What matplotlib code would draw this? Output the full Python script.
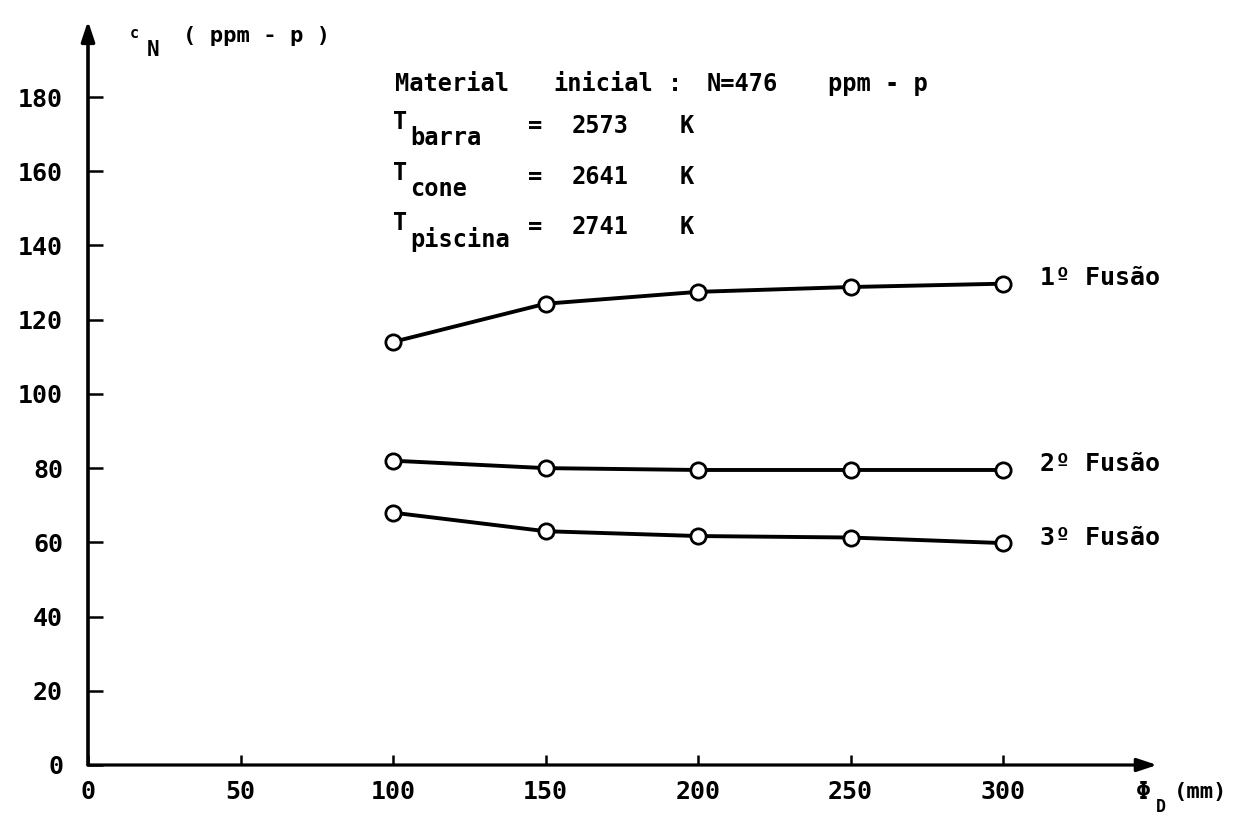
import matplotlib
matplotlib.use("Agg")
import matplotlib.pyplot as plt

plt.rcParams['font.family'] = ['DejaVu Sans Mono', 'DejaVu Sans']
plt.rcParams['font.weight'] = 'bold'

# Bar diameter (mm) and nitrogen content (ppm-p) after each melt
diametro = [100, 150, 200, 250, 300]
fusao_1 = [114.0, 124.3, 127.5, 128.8, 129.7]
fusao_2 = [82.0, 80.0, 79.5, 79.5, 79.5]
fusao_3 = [68.0, 63.0, 61.7, 61.3, 59.8]
rotulos = ["1º Fusão", "2º Fusão", "3º Fusão"]

y_ticks = [0, 20, 40, 60, 80, 100, 120, 140, 160, 180]
x_ticks = [0, 50, 100, 150, 200, 250, 300]

W, H = 1243, 816
fig = plt.figure(figsize=(W / 100, H / 100), dpi=100)

# axes placed so that the origin sits at (88, 765) px
x0_px, y0_px = 88, 765
sx, sy = 3.05, 3.711
xmax, ymax = 370, 205
ax = fig.add_axes([x0_px / W, 1 - y0_px / H,
                   xmax * sx / W, ymax * sy / H])
ax.set_xlim(0, xmax)
ax.set_ylim(0, ymax)
for s in ax.spines.values():
    s.set_visible(False)


def px(x, y):
    """Figure fraction from pixel position (top-left origin)."""
    return x / W, 1 - y / H


# axes drawn as arrows
ax.annotate('', xy=(0, 200.5), xytext=(0, 0),
            arrowprops=dict(arrowstyle='-|>,head_length=1.2,head_width=0.4',
                            lw=2.6, color='black', shrinkA=0, shrinkB=0),
            annotation_clip=False)
ax.annotate('', xy=(350.5, 0), xytext=(0, 0),
            arrowprops=dict(arrowstyle='-|>,head_length=1.2,head_width=0.4',
                            lw=2.3, color='black', shrinkA=0, shrinkB=0),
            annotation_clip=False)

ax.set_yticks(y_ticks)
ax.set_xticks(x_ticks)
ax.tick_params(axis='y', direction='in', length=11, width=1.8, pad=18,
               labelsize=18)
ax.tick_params(axis='x', direction='in', length=7, width=1.8, pad=11,
               labelsize=18)
for lab in ax.get_xticklabels() + ax.get_yticklabels():
    lab.set_fontweight('bold')

for serie, rot in zip([fusao_1, fusao_2, fusao_3], rotulos):
    ax.plot(diametro, serie, color='black', lw=2.8, marker='o', ms=11,
            mfc='white', mec='black', mew=2.0, zorder=3)
    ax.annotate(rot, xy=(diametro[-1], serie[-1]), xytext=(27, 4),
                textcoords='offset points', va='center', ha='left',
                fontsize=18, fontweight='bold')

# axis titles
fig.text(*px(130, 34), "c", fontsize=11, va='center', ha='left')
fig.text(*px(147, 50), "N", fontsize=15, va='center', ha='left')
fig.text(*px(183, 36), "( ppm - p )", fontsize=16, va='center', ha='left')

fig.text(*px(1136, 792), "Φ", fontsize=18, va='center', ha='left')
fig.text(*px(1156, 807), "D", fontsize=12, va='center', ha='left')
fig.text(*px(1174, 792), "(mm)", fontsize=16, va='center', ha='left')

# operating conditions
fs = 17
fig.text(*px(395, 84), "Material", fontsize=fs, va='center', ha='left')
fig.text(*px(553, 84), "inicial", fontsize=fs, va='center', ha='left')
fig.text(*px(668, 84), ":", fontsize=fs, va='center', ha='left')
fig.text(*px(707, 84), "N=476", fontsize=fs, va='center', ha='left')
fig.text(*px(828, 84), "ppm - p", fontsize=fs, va='center', ha='left')

linhas = [("barra", "2573", 126), ("cone", "2641", 177), ("piscina", "2741", 227)]
for sub, val, yc in linhas:
    fig.text(*px(393, yc - 4), "T", fontsize=17, va='center', ha='left')
    fig.text(*px(410, yc + 12), sub, fontsize=fs, va='center', ha='left')
    fig.text(*px(528, yc), "=", fontsize=fs, va='center', ha='left')
    fig.text(*px(572, yc), val, fontsize=fs, va='center', ha='left')
    fig.text(*px(680, yc), "K", fontsize=fs, va='center', ha='left')

fig.savefig("out.png", dpi=100, facecolor='white')
